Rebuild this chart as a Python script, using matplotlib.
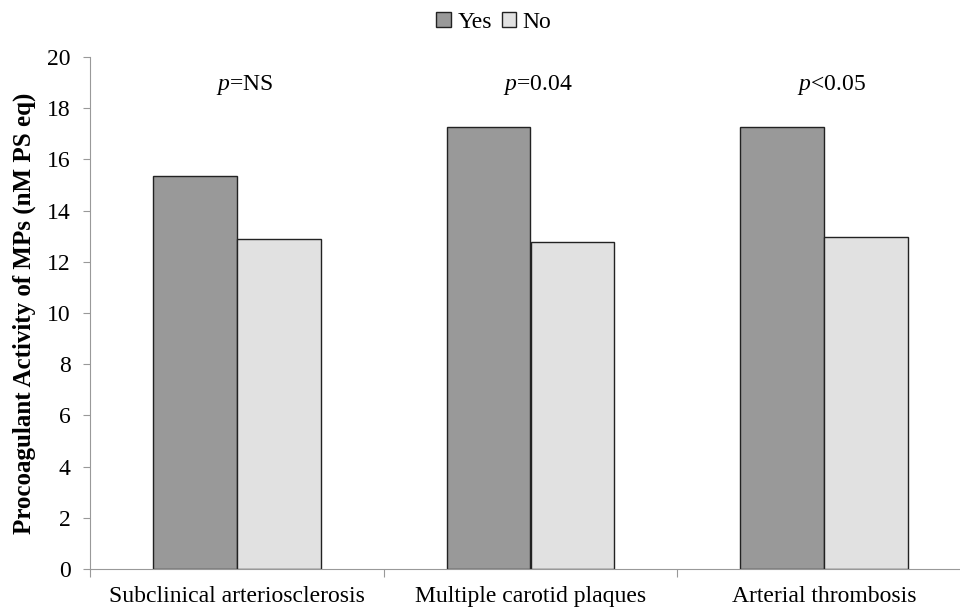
import matplotlib.pyplot as plt
import numpy as np

categories = ["Subclinical arteriosclerosis", "Multiple carotid plaques", "Arterial thrombosis"]
yes_vals = [15.35, 17.28, 17.28]
no_vals = [12.88, 12.78, 12.97]
p_labels = [r"$\mathit{p}$=NS", r"$\mathit{p}$=0.04", r"$\mathit{p}$<0.05"]
yticks = list(range(0, 21, 2))

plt.rcParams['font.family'] = ['Liberation Serif', 'DejaVu Serif']
plt.rcParams['mathtext.fontset'] = 'custom'
plt.rcParams['mathtext.rm'] = 'Liberation Serif'
plt.rcParams['mathtext.it'] = 'Liberation Serif:italic'

fig = plt.figure(figsize=(9.6, 6.11), dpi=100)
ax = fig.add_axes([90 / 960, 42 / 611, 881 / 960, 512 / 611])

x = np.arange(len(categories))
w = 0.286
ax.bar(x - w / 2, yes_vals, w, color="#999999", edgecolor="#222222", linewidth=1, label="Yes")
ax.bar(x + w / 2, no_vals, w, color="#e1e1e1", edgecolor="#222222", linewidth=1, label="No")

for i, lab in enumerate(p_labels):
    ax.text(i + 0.025, 18.9, lab, ha="center", va="center", fontsize=17)

ax.set_xlim(-0.5, 2.5)
ax.set_ylim(0, 20)
ax.set_yticks(yticks)
ax.tick_params(axis="y", labelsize=17, length=5, color="#999999", pad=9)
ax.set_xticks([-0.5, 0.5, 1.5, 2.5])
ax.set_xticklabels([])
ax.set_xticks(x, minor=True)
ax.set_xticklabels(categories, minor=True)
ax.tick_params(axis="x", which="major", length=6, color="#999999")
ax.tick_params(axis="x", which="minor", length=0, labelsize=17, pad=12)

for s in ["top", "right"]:
    ax.spines[s].set_visible(False)
for s in ["left", "bottom"]:
    ax.spines[s].set_color("#999999")

ax.set_ylabel("Procoagulant Activity of MPs (nM PS eq)", fontsize=18, fontweight="bold", labelpad=8)

ax.legend(loc="upper center", bbox_to_anchor=(404 / 881, 1.13), ncol=2, frameon=False,
          fontsize=17, handlelength=0.6, handleheight=0.6, handletextpad=0.3, columnspacing=0.4)

fig.savefig("out.png", dpi=100)
